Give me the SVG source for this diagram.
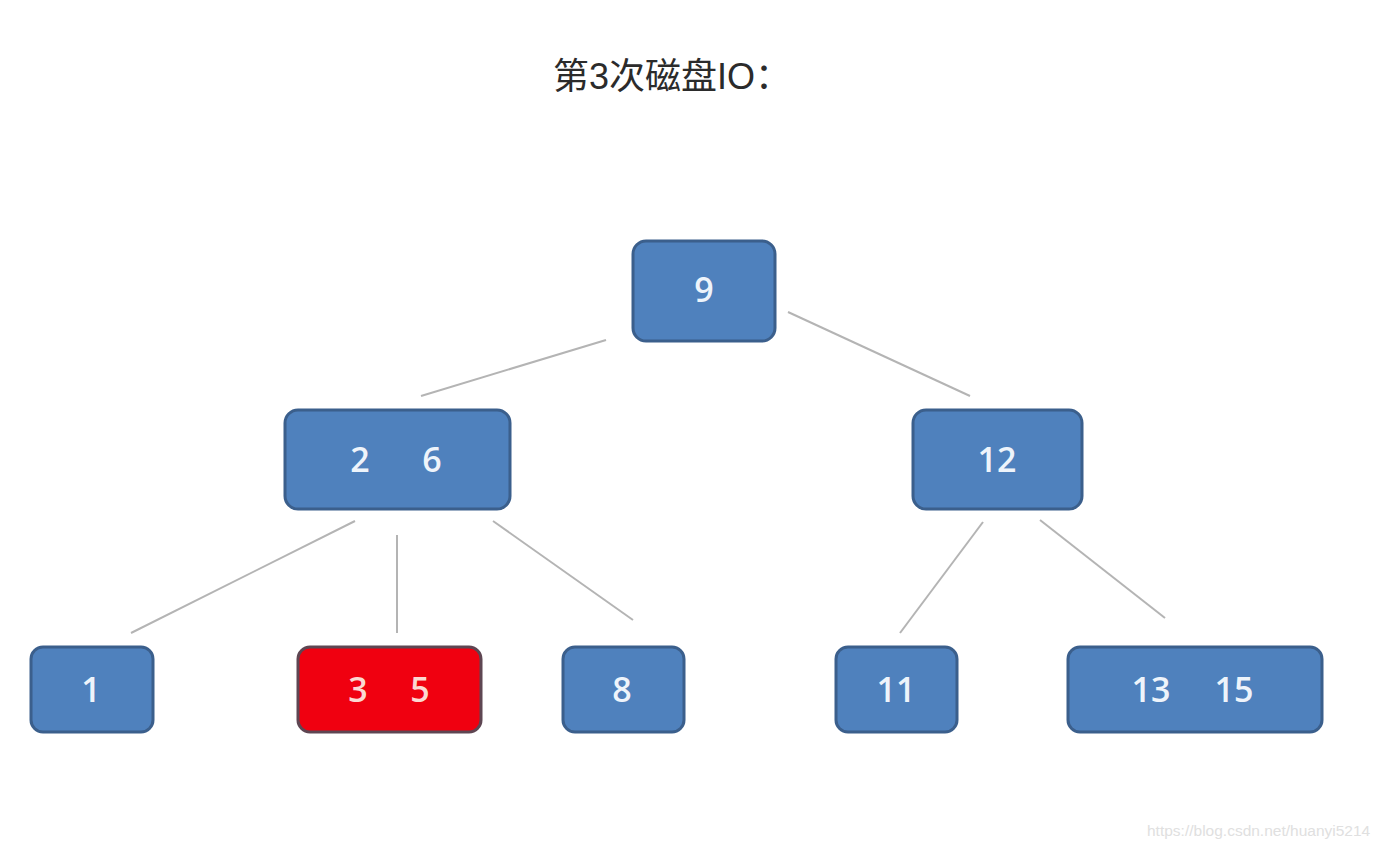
<svg xmlns="http://www.w3.org/2000/svg" width="1384" height="848" viewBox="0 0 1384 848">
<style>
.box{fill:#4f81bd;stroke:#3b5f8c;stroke-width:3}
.red{fill:#f00010;stroke:#5e4652;stroke-width:3}
.lbl{font-family:"Open Sans","Liberation Sans",sans-serif;font-size:34px;font-weight:600;fill:#eef4fb;text-anchor:middle}
.lblr{font-family:"Open Sans","Liberation Sans",sans-serif;font-size:34px;font-weight:600;fill:#fbd8d2;text-anchor:middle}
.edge{stroke:#b4b4b4;stroke-width:2;fill:none}
</style>
<rect width="1384" height="848" fill="#ffffff"/>
<text x="672" y="89" font-family="'Liberation Sans','Noto Sans CJK SC',sans-serif" font-size="36" fill="#2b2b2b" text-anchor="middle">第3次磁盘IO：</text>
<g id="connectors">
<line class="edge" x1="606" y1="340" x2="421" y2="396"/>
<line class="edge" x1="788" y1="312" x2="970" y2="396"/>
<line class="edge" x1="355" y1="521" x2="131" y2="633"/>
<line class="edge" x1="397" y1="535" x2="397" y2="633"/>
<line class="edge" x1="493" y1="521" x2="633" y2="620"/>
<line class="edge" x1="983" y1="522" x2="900" y2="633"/>
<line class="edge" x1="1040" y1="520" x2="1165" y2="618"/>
</g>
<g id="n9"><rect class="box" x="633" y="241" width="142" height="100" rx="13"/><text class="lbl" x="704" y="302">9</text></g>
<g id="n2_6"><rect class="box" x="285" y="410" width="225" height="99" rx="13"/><text class="lbl" x="360" y="472">2</text><text class="lbl" x="432" y="472">6</text></g>
<g id="n12"><rect class="box" x="913" y="410" width="169" height="99" rx="13"/><text class="lbl" x="997" y="472">12</text></g>
<g id="n1"><rect class="box" x="31" y="647" width="122" height="85" rx="12"/><text class="lbl" x="91" y="702">1</text></g>
<g id="n3_5"><rect class="red" x="298" y="647" width="183" height="85" rx="12"/><text class="lblr" x="358" y="702">3</text><text class="lblr" x="420" y="702">5</text></g>
<g id="n8"><rect class="box" x="563" y="647" width="121" height="85" rx="12"/><text class="lbl" x="622" y="702">8</text></g>
<g id="n11"><rect class="box" x="836" y="647" width="121" height="85" rx="12"/><text class="lbl" x="896" y="702">11</text></g>
<g id="n13_15"><rect class="box" x="1068" y="647" width="254" height="85" rx="12"/><text class="lbl" x="1151" y="702">13</text><text class="lbl" x="1234" y="702">15</text></g>
<text x="1147" y="836" font-family="'Liberation Sans',sans-serif" font-size="15.5" fill="#e0e0e0">https://blog.csdn.net/huanyi5214</text>
</svg>
